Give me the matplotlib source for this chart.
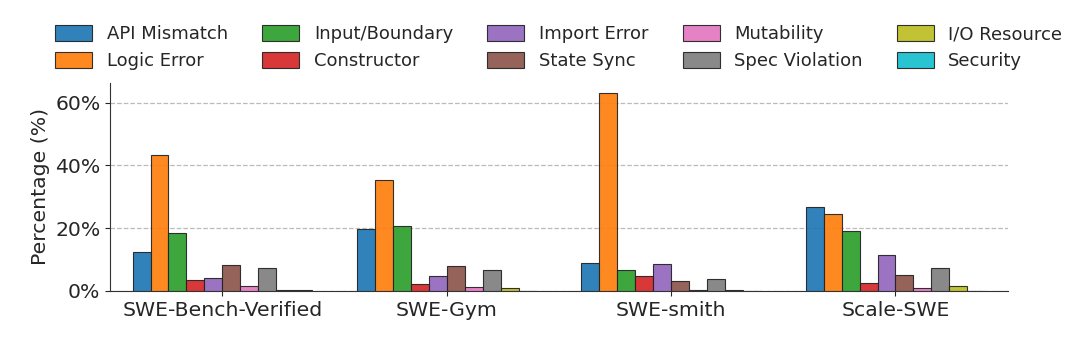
import matplotlib.pyplot as plt
import numpy as np
import seaborn as sns

datasets = ['SWE-Bench-Verified', 'SWE-Gym', 'SWE-smith', 'Scale-SWE']
categories = ['API Mismatch', 'Logic Error', 'Input/Boundary', 'Constructor',
              'Import Error', 'State Sync', 'Mutability', 'Spec Violation',
              'I/O Resource', 'Security']
# percentage per category, one list per dataset
swe_bench_verified = [12.5, 43.4, 18.4, 3.5, 4.0, 8.1, 1.7, 7.4, 0.4, 0.2]
swe_gym = [19.8, 35.4, 20.7, 2.3, 4.6, 7.9, 1.2, 6.6, 0.9, 0.0]
swe_smith = [9.0, 63.1, 6.6, 4.6, 8.6, 3.1, 0.2, 3.7, 0.3, 0.0]
scale_swe = [26.7, 24.6, 19.1, 2.5, 11.4, 5.1, 0.9, 7.3, 1.7, 0.0]

values = np.array([swe_bench_verified, swe_gym, swe_smith, scale_swe])

sns.set_style('ticks')
plt.rcParams['font.family'] = ['DejaVu Sans']

fig = plt.figure(figsize=(10.8, 3.43), dpi=100)
ax = fig.add_axes([0.102, 0.152, 0.831, 0.606])

colors = plt.get_cmap('tab10').colors
x = np.arange(len(datasets))
w = 0.08
for i, cat in enumerate(categories):
    ax.bar(x + (i - 4.5) * w, values[:, i], w, color=colors[i], alpha=0.92,
           edgecolor='#222222', linewidth=0.8, label=cat, zorder=3)

ax.set_xlim(-0.5, 3.5)
ax.set_ylim(0, 66.3)
ax.set_xticks(x)
ax.set_xticklabels(datasets, fontsize=14.7)
ax.set_yticks([0, 20, 40, 60])
ax.set_yticklabels(['0%', '20%', '40%', '60%'], fontsize=14.7)
ax.set_ylabel('Percentage (%)', fontsize=14.7)
ax.yaxis.grid(True, linestyle='--', color='#bbbbbb', linewidth=0.9, zorder=0)
sns.despine(ax=ax)
for s in ['left', 'bottom']:
    ax.spines[s].set_color('#333333')

ax.legend(ncol=5, loc='lower center', bbox_to_anchor=(0.5, 0.985), frameon=False,
          fontsize=13, handlelength=2.05, handleheight=1.0, columnspacing=1.9,
          labelspacing=0.45, handletextpad=0.8)

plt.savefig('out.png', dpi=100)
